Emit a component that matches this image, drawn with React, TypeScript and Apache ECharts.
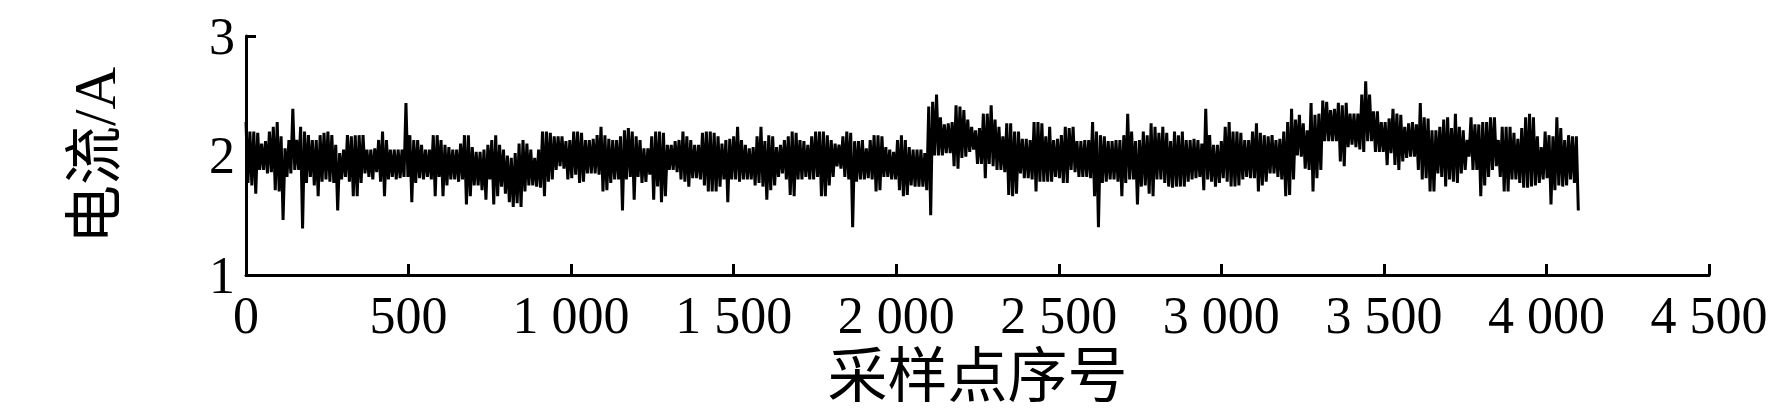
import React, { useEffect, useRef } from "react";
import * as echarts from "echarts";

// Current samples (A), read from the picture as alternating upper / lower excursions,
// one value every 6 sampling points; each segment covers 600 sampling points.
const SEG0 = [2.28,1.77,2.20,1.75,2.20,1.68,2.19,1.88,2.10,1.88,2.12,1.85,2.20,1.86,2.24,1.71,2.28,1.70,2.16,1.46,2.06,1.82,2.13,1.85,2.39,1.88,2.13,1.88,2.24,1.39,2.20,1.77,2.17,1.82,2.13,1.75,2.13,1.66,2.17,1.78,2.19,1.80,2.20,1.78,2.17,1.77,2.09,1.54,2.02,1.80,2.05,1.82,2.17,1.78,2.16,1.66,2.17,1.66,2.17,1.77,2.17,1.85,2.05,1.82,2.05,1.80,2.06,1.86,2.13,1.78,2.20,1.66,2.13,1.80,2.05,1.82,2.05,1.80,2.05,1.81,2.05,1.82,2.44,1.82,2.17,1.61,2.13,1.77,2.13,1.81,2.09,1.80,2.05,1.82,2.05,1.80,2.17,1.66,2.17,1.82];
const SEG1 = [2.13,1.66,2.09,1.75,2.07,1.80,2.05,1.80,2.05,1.78,2.10,1.80,2.17,1.59,2.17,1.66,2.07,1.75,2.03,1.75,2.03,1.71,2.05,1.63,2.09,1.80,2.13,1.59,2.17,1.66,2.09,1.74,2.05,1.68,2.00,1.61,1.98,1.57,2.02,1.60,2.10,1.57,2.13,1.70,2.10,1.75,2.05,1.75,1.98,1.74,2.05,1.73,2.20,1.66,2.20,1.78,2.19,1.80,2.16,1.88,2.16,1.91,2.16,1.89,2.12,1.80,2.13,1.81,2.20,1.84,2.20,1.77,2.19,1.78,2.13,1.85,2.13,1.85,2.14,1.85,2.17,1.84,2.24,1.70,2.17,1.71,2.14,1.77,2.13,1.80,2.13,1.80,2.16,1.54,2.21,1.80,2.23,1.82,2.20,1.63];
const SEG2 = [2.16,1.82,2.13,1.77,2.06,1.78,2.06,1.84,2.16,1.63,2.20,1.74,2.20,1.61,2.19,1.66,2.09,1.88,2.09,1.88,2.12,1.86,2.13,1.80,2.20,1.78,2.16,1.74,2.13,1.81,2.09,1.81,2.09,1.80,2.19,1.75,2.20,1.70,2.20,1.70,2.19,1.70,2.16,1.74,2.10,1.80,2.13,1.61,2.14,1.80,2.16,1.80,2.24,1.78,2.13,1.80,2.09,1.80,2.06,1.80,2.07,1.75,2.16,1.77,2.24,1.74,2.12,1.63,2.17,1.71,2.16,1.75,2.07,1.82,2.09,1.85,2.13,1.80,2.16,1.67,2.20,1.66,2.19,1.80,2.13,1.80,2.12,1.82,2.09,1.80,2.16,1.80,2.20,1.82,2.20,1.66,2.20,1.66,2.17,1.75];
const SEG3 = [2.13,1.82,2.10,1.91,2.09,1.89,2.16,1.82,2.20,1.80,2.19,1.40,2.12,1.78,2.12,1.80,2.13,1.80,2.06,1.81,2.13,1.80,2.17,1.70,2.17,1.71,2.16,1.82,2.07,1.82,2.05,1.80,2.03,1.80,2.13,1.71,2.17,1.66,2.13,1.67,2.07,1.75,2.05,1.74,2.05,1.74,2.05,1.74,2.02,1.71,2.41,1.50,2.45,2.00,2.51,2.00,2.32,2.00,2.26,2.02,2.27,2.02,2.28,1.91,2.42,1.89,2.41,1.98,2.38,1.99,2.30,2.03,2.24,2.05,2.21,1.93,2.23,1.93,2.35,1.81,2.35,1.93,2.42,1.91,2.30,1.88,2.24,1.88,2.16,1.86,2.27,1.67,2.27,1.66,2.20,1.68,2.20,1.85,2.14,1.81];
const SEG4 = [2.14,1.81,2.13,1.80,2.28,1.70,2.28,1.78,2.27,1.78,2.16,1.78,2.24,1.78,2.13,1.82,2.14,1.81,2.17,1.77,2.24,1.77,2.23,1.88,2.24,1.86,2.12,1.82,2.12,1.82,2.13,1.82,2.13,1.81,2.28,1.66,2.20,1.40,2.17,1.77,2.16,1.78,2.12,1.80,2.12,1.80,2.13,1.78,2.13,1.66,2.17,1.77,2.35,1.80,2.20,1.80,2.12,1.59,2.13,1.74,2.20,1.75,2.17,1.68,2.27,1.66,2.24,1.80,2.19,1.80,2.24,1.77,2.19,1.74,2.12,1.73,2.20,1.74,2.17,1.74,2.20,1.74,2.13,1.78,2.13,1.80,2.14,1.81,2.13,1.82,2.10,1.71,2.39,1.80,2.17,1.78,2.09,1.74,2.09,1.77];
const SEG5 = [2.12,1.81,2.24,1.78,2.28,1.74,2.20,1.74,2.20,1.75,2.19,1.80,2.13,1.82,2.13,1.81,2.20,1.81,2.27,1.70,2.19,1.75,2.17,1.78,2.16,1.85,2.17,1.85,2.13,1.82,2.14,1.80,2.20,1.66,2.28,1.67,2.39,1.80,2.30,2.00,2.34,1.99,2.27,1.89,2.21,1.88,2.44,1.70,2.34,1.81,2.35,1.88,2.46,2.12,2.45,2.12,2.38,2.12,2.39,2.12,2.44,1.95,2.42,1.91,2.44,2.07,2.35,2.09,2.35,2.07,2.35,2.05,2.51,2.03,2.62,2.12,2.51,2.12,2.37,2.03,2.37,2.03,2.28,2.03,2.28,1.92,2.31,2.02,2.39,1.92,2.35,1.88,2.34,1.95,2.24,1.98,2.27,1.99,2.28,1.99];
const SEG6 = [2.26,1.88,2.44,1.80,2.32,1.81,2.31,1.70,2.21,1.70,2.21,1.85,2.24,1.82,2.30,1.74,2.32,1.80,2.23,1.78,2.35,1.77,2.24,1.85,2.21,1.88,2.13,1.99,2.32,1.88,2.26,1.88,2.26,1.66,2.28,1.75,2.28,1.82,2.32,1.88,2.32,1.91,2.13,1.82,2.24,1.70,2.24,1.70,2.24,1.80,2.19,1.80,2.14,1.77,2.23,1.73,2.32,1.73,2.35,1.74,2.32,1.75,2.16,1.77,2.07,1.80,2.20,1.81,2.17,1.59,2.16,1.71,2.32,1.75,2.23,1.74,2.13,1.75,2.17,1.80,2.16,1.77,2.16,1.54];

const SEGMENTS = [SEG0, SEG1, SEG2, SEG3, SEG4, SEG5, SEG6];
const SEGMENT_SPAN = 600; // sampling points per segment
const SAMPLE_STEP = 6; // sampling points between consecutive values

const X_TICK_LABELS = ["0", "500", "1 000", "1 500", "2 000", "2 500", "3 000", "3 500", "4 000", "4 500"];
const Y_TICK_LABELS = ["1", "2", "3"];

const X_NAME = "采样点序号";
const Y_NAME = "电流/A";

const FONT = "'Liberation Serif', 'Times New Roman', 'Noto Sans CJK SC', serif";

export default function App() {
  const ref = useRef<HTMLDivElement>(null);

  useEffect(() => {
    if (!ref.current) return;
    const chart = echarts.init(ref.current, undefined, { renderer: "svg" });
    const points: number[][] = [];
    SEGMENTS.forEach((seg, k) => {
      seg.forEach((v, i) => points.push([k * SEGMENT_SPAN + i * SAMPLE_STEP, v]));
    });

    chart.setOption({
      animation: false,
      backgroundColor: "#ffffff",
      textStyle: { fontFamily: FONT, color: "#000" },
      grid: {
        left: 246,
        top: 36,
        width: 1463,
        height: 239,
        containLabel: false,
        outerBoundsMode: "none",
      },
      xAxis: {
        type: "value",
        min: 0,
        max: 4500,
        interval: 500,
        name: X_NAME,
        nameLocation: "middle",
        nameGap: 72,
        nameTextStyle: { fontSize: 60, color: "#000", fontFamily: FONT },
        axisLine: { show: true, lineStyle: { color: "#000", width: 3 } },
        axisTick: { show: true, inside: true, length: 11, lineStyle: { color: "#000", width: 3 } },
        axisLabel: {
          show: true,
          margin: 14,
          fontSize: 52,
          color: "#000",
          fontFamily: FONT,
          formatter: (v: number) => X_TICK_LABELS[Math.round(v / 500)] ?? "",
        },
        splitLine: { show: false },
      },
      yAxis: {
        type: "value",
        min: 1,
        max: 3,
        interval: 1,
        name: Y_NAME,
        nameLocation: "middle",
        nameGap: 122,
        nameRotate: 90,
        nameTextStyle: { fontSize: 59, color: "#000", fontFamily: FONT },
        axisLine: { show: true, lineStyle: { color: "#000", width: 3 } },
        axisTick: { show: true, inside: true, length: 10, lineStyle: { color: "#000", width: 3 } },
        axisLabel: {
          show: true,
          margin: 11,
          fontSize: 52,
          color: "#000",
          fontFamily: FONT,
          formatter: (v: number) => Y_TICK_LABELS[Math.round(v - 1)] ?? "",
        },
        splitLine: { show: false },
      },
      series: [
        {
          type: "line",
          data: points,
          showSymbol: false,
          symbol: "none",
          lineStyle: { color: "#000", width: 3 },
          z: 1,
        },
      ],
    });

    return () => chart.dispose();
  }, []);

  return (
    <div
      ref={ref}
      style={{ position: "fixed", left: 0, top: 0, width: 1778, height: 412, background: "#fff" }}
    />
  );
}
